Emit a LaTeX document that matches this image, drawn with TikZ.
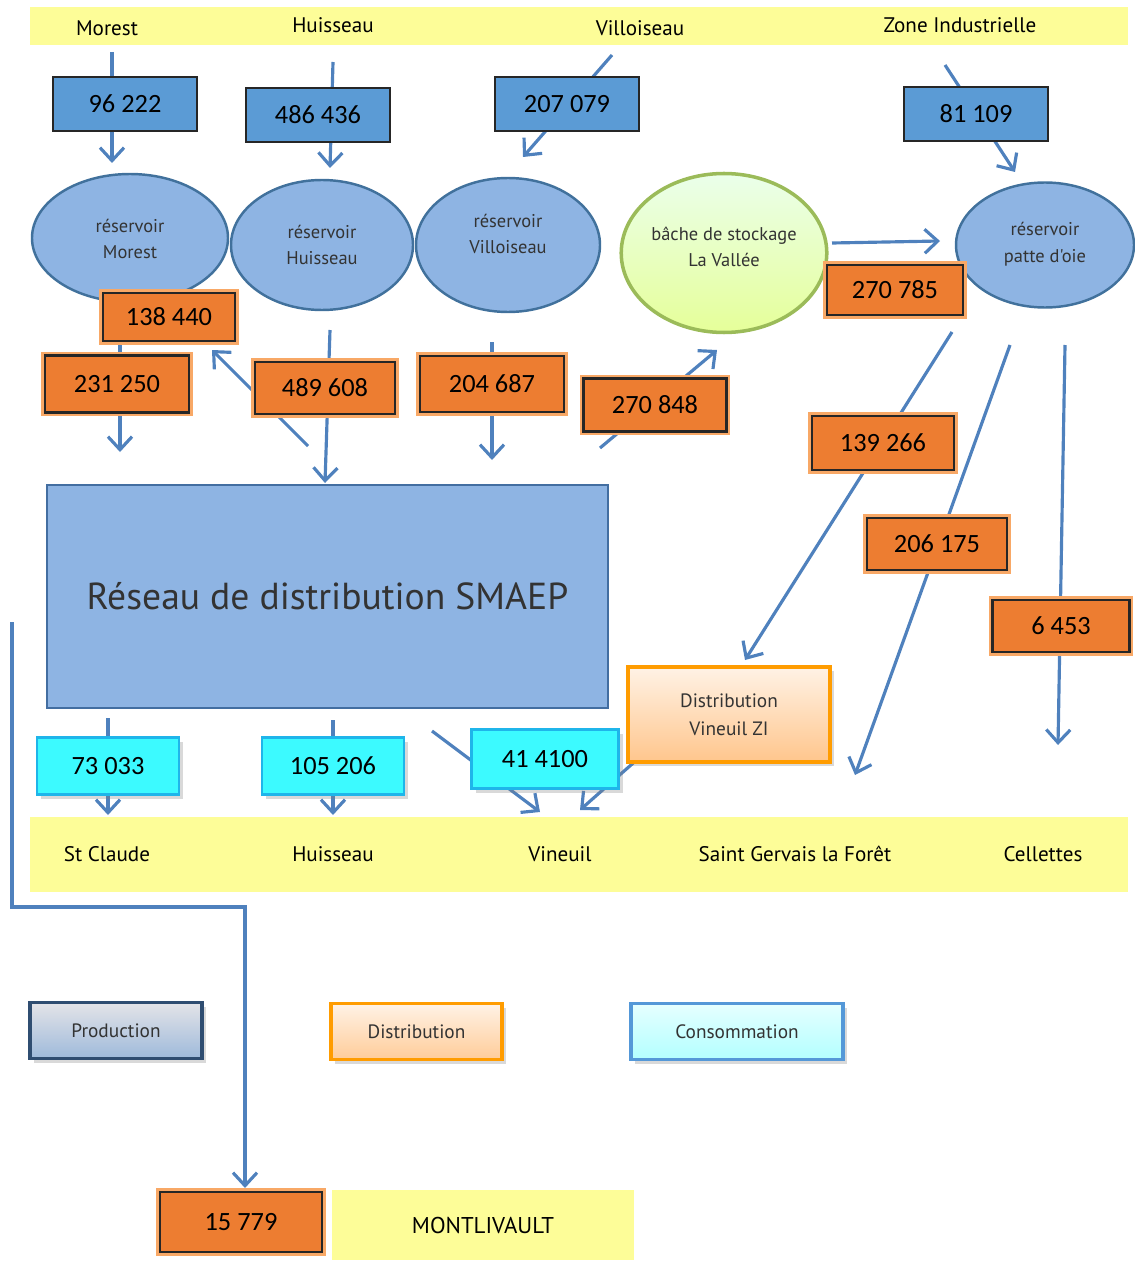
\documentclass[tikz,border=0pt]{standalone}
\usepackage{fontspec}
\setmainfont{Carlito}
\newfontfamily\labfont{PT Sans}
\usetikzlibrary{arrows.meta}
\usetikzlibrary{positioning}
\usetikzlibrary{shapes.geometric}
\usetikzlibrary{backgrounds}
\usetikzlibrary{shadows}

\definecolor{flowblue}{HTML}{4F81BD}
\definecolor{prodblue}{HTML}{5B9BD5}
\definecolor{tankblue}{HTML}{8EB4E3}
\definecolor{tankline}{HTML}{41719C}
\definecolor{distorange}{HTML}{ED7D31}
\definecolor{glow}{HTML}{F8A866}
\definecolor{conscyan}{HTML}{3CFAFF}
\definecolor{consline}{HTML}{1FB5EA}
\definecolor{bandyellow}{HTML}{FDFD98}
\definecolor{bachegreen}{HTML}{9BBB59}

\begin{document}
\begin{tikzpicture}[x=0.2mm,y=-0.2mm,
  flow/.style={draw=flowblue,line width=1.8pt,-{Straight Barb[length=2.6mm,width=4.8mm]}},
  num/.style={font=\fontsize{15}{18}\selectfont,inner sep=0pt},
  prod/.style={num,draw=black!85,line width=1.5pt,fill=prodblue,minimum width=28.8mm,minimum height=10.8mm},
  dist/.style={num,draw=black!85,line width=1.3pt,fill=distorange,minimum width=28mm,minimum height=10.6mm,preaction={draw=glow,line width=4.5pt}},
  cons/.style={num,draw=consline,line width=1.3pt,fill=conscyan,minimum width=28.4mm,minimum height=11.4mm,drop shadow={opacity=.3,shadow xshift=.8mm,shadow yshift=-.8mm}},
  tank/.style={ellipse,draw=tankline,line width=1.4pt,fill=tankblue,inner sep=0pt,align=center,text=black!80,font=\labfont\fontsize{10.5}{15}\selectfont},
  town/.style={font=\labfont\fontsize{12}{14}\selectfont},
  legendbox/.style={font=\labfont\fontsize{11}{13}\selectfont,text=black!80,line width=1.8pt,minimum height=11.2mm,drop shadow={opacity=.3,shadow xshift=.8mm,shadow yshift=-.8mm}}]
  \useasboundingbox (0,0) rectangle (1134,1262);

  \fill[bandyellow] (30,7) rectangle (1128,45);
  \fill[bandyellow] (30,817) rectangle (1128,892);

  \node[town] (t-morest) at (107,28) {Morest};
  \node[town] (t-huis) at (333,25) {Huisseau};
  \node[town] (t-vill) at (640,28) {Villoiseau};
  \node[town] (t-zi) at (960,25) {Zone Industrielle};

  \node[prod] (p-morest) at (125,104) {96 222};
  \node[prod] (p-huis) at (318,115) {486 436};
  \node[prod] (p-vill) at (567,104) {207 079};
  \node[prod] (p-zi) at (976,114) {81 109};

  \node[tank,minimum width=39.2mm,minimum height=25.6mm] (r-morest) at (130,238) {\mbox{}\\[-6pt]réservoir\\Morest};
  \node[tank,minimum width=36.4mm,minimum height=26mm] (r-huis) at (322,245) {réservoir\\Huisseau};
  \node[tank,minimum width=36.8mm,minimum height=26.8mm] (r-vill) at (508,245) {réservoir\\Villoiseau\\[-2.5pt]};
  \node[tank,draw=bachegreen,line width=2pt,top color=green!8,bottom color=green!25!yellow!40,minimum width=40.2mm,minimum height=31.8mm] (bache) at (724,253) {bâche de stockage\\La Vallée\\[-8pt]};
  \node[tank,minimum width=35.6mm,minimum height=25mm] (r-patte) at (1045,245) {réservoir\\patte d'oie\\[-12pt]};

  \node[dist,minimum width=26.4mm,minimum height=9.6mm] (d-138) at (169,317) {138 440};
  \node[dist,minimum width=28.8mm,minimum height=11.4mm] (d-231) at (117,384) {231 250};
  \node[dist,minimum height=10.4mm] (d-489) at (325,388) {489 608};
  \node[dist,minimum width=28.8mm,minimum height=11.2mm] (d-204) at (492,384) {204 687};
  \node[dist,minimum width=28.6mm] (d-848) at (655,405) {270 848};
  \node[dist,minimum width=27.2mm,minimum height=10mm] (d-785) at (895,290) {270 785};
  \node[dist,minimum width=28.4mm,minimum height=10.8mm] (d-139) at (883,443) {139 266};
  \node[dist,minimum height=10.4mm] (d-206) at (937,544) {206 175};
  \node[dist,minimum width=27.4mm,minimum height=10.4mm] (d-6) at (1061,626) {6 453};

  \node[draw=flowblue!85!black,line width=1.5pt,fill=tankblue,minimum width=112.2mm,minimum height=44.6mm,
    font=\labfont\fontsize{21.4}{25}\selectfont,text=black!80] (smaep) at (327.5,596.5) {Réseau de distribution SMAEP};

  \node[legendbox,draw=orange!70!red!60!yellow,top color=orange!10,bottom color=orange!45,
    minimum width=40.4mm,minimum height=19mm,align=center,font=\labfont\fontsize{11}{16}\selectfont] (d-vzi) at (729,714.5) {Distribution\\Vineuil ZI};

  \node[cons] (c-claude) at (108,766) {73 033};
  \node[cons] (c-huis) at (333,766) {105 206};
  \node[cons,minimum width=29.4mm,minimum height=11.8mm] (c-vin) at (545,759) {41 4100};

  \node[town] (b-claude) at (107,854) {St Claude};
  \node[town] (b-huis) at (333,854) {Huisseau};
  \node[town] (b-vin) at (560,854) {Vineuil};
  \node[town] (b-sgf) at (795,854) {Saint Gervais la Forêt};
  \node[town] (b-cel) at (1043,854) {Cellettes};

  \node[legendbox,draw=flowblue!60!black,top color=blue!8!gray!20,bottom color=flowblue!55,minimum width=34.4mm] (k-prod) at (116,1030.5) {Production};
  \node[legendbox,draw=orange!70!red!60!yellow,top color=orange!10,bottom color=orange!40,minimum width=34.2mm] (k-dist) at (416.5,1031.5) {Distribution};
  \node[legendbox,draw=cyan!60!blue!70,top color=cyan!10,bottom color=cyan!30,minimum width=42.4mm] (k-cons) at (737,1031.5) {Consommation};

  \node[dist,minimum width=32.4mm,minimum height=12mm] (d-15) at (241,1222) {15 779};
  \node[fill=bandyellow,minimum width=60.4mm,minimum height=14mm,font=\labfont\fontsize{13}{15}\selectfont] (montl) at (483,1225) {MONTLIVAULT};

  \begin{scope}[on background layer]
    \coordinate (m1) at (112,52);   \coordinate (m2) at (112,163);
    \coordinate (h1) at (333,62);   \coordinate (h2) at (330,168);
    \coordinate (v1) at (612,55);   \coordinate (v2) at (523,157);
    \coordinate (z1) at (945,65);   \coordinate (z2) at (1015,172);
    \coordinate (m3) at (120,300);  \coordinate (m4) at (120,452);
    \coordinate (x1) at (308,446);  \coordinate (x2) at (212,350);
    \coordinate (h3) at (330,330);  \coordinate (h4) at (325,483);
    \coordinate (v3) at (492,342);  \coordinate (v4) at (492,460);
    \coordinate (s1) at (600,448);  \coordinate (s2) at (717,350);
    \coordinate (s3) at (832,243);  \coordinate (s4) at (940,241);
    \coordinate (p1) at (952,332);  \coordinate (p2) at (745,660);
    \coordinate (p3) at (1010,345); \coordinate (p4) at (855,775);
    \coordinate (p5) at (1065,345); \coordinate (p6) at (1058,745);
    \coordinate (c1) at (108,718);  \coordinate (c2) at (108,815);
    \coordinate (c3) at (333,720);  \coordinate (c4) at (333,815);
    \coordinate (c5) at (432,731);  \coordinate (c6) at (540,812);
    \coordinate (c7) at (640,757);  \coordinate (c8) at (580,810);
    \coordinate (l1) at (12,622);   \coordinate (l2) at (245,1188);
    \draw[flow] (m1) -- (m2);
    \draw[flow] (h1) -- (h2);
    \draw[flow] (v1) -- (v2);
    \draw[flow] (z1) -- (z2);
    \draw[flow] (m3) -- (m4);
    \draw[flow] (x1) -- (x2);
    \draw[flow] (h3) -- (h4);
    \draw[flow] (v3) -- (v4);
    \draw[flow] (s1) -- (s2);
    \draw[flow] (s3) -- (s4);
    \draw[flow] (p1) -- (p2);
    \draw[flow] (p3) -- (p4);
    \draw[flow] (p5) -- (p6);
    \draw[flow] (c1) -- (c2);
    \draw[flow] (c3) -- (c4);
    \draw[flow] (c5) -- (c6);
    \draw[flow] (c7) -- (c8);
    \draw[flow] (l1) |- (245,907) -- (l2);
  \end{scope}
\end{tikzpicture}
\end{document}
